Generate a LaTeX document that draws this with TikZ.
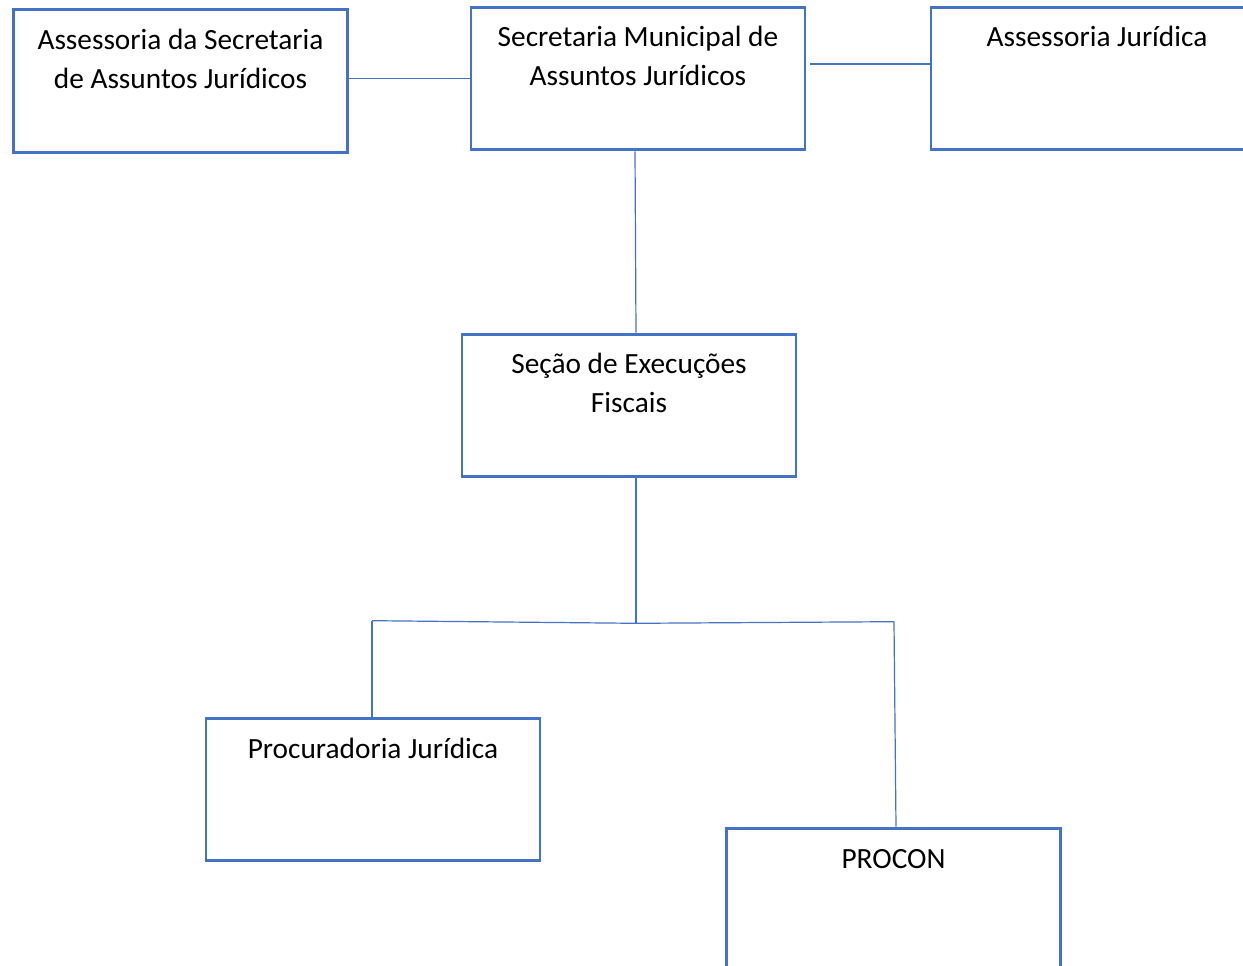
\documentclass[tikz,border=0pt]{standalone}
\usepackage{fontspec}
\setmainfont{Carlito}
\usetikzlibrary{calc}
\definecolor{officeblue}{RGB}{68,114,196}
\begin{document}
\begin{tikzpicture}[x=0.75pt,y=-0.75pt,
  orgbox/.style={draw=officeblue,line width=2.2pt,rectangle,inner sep=0pt,
    minimum width=250.5pt,minimum height=107pt,fill=white},
  boxtext/.style={anchor=base,align=center,inner sep=0pt,
    font=\fontsize{22}{29.3}\selectfont},
  link/.style={draw=officeblue,line width=0.9pt}]
\useasboundingbox (0,0) rectangle (1243,966);
\begin{scope}
\clip (0,0) rectangle (1243,966);
% boxes
\node[orgbox] (b1) at (180.5,81) {};
\node[orgbox] (b2) at (638,78.5) {};
\node[orgbox] (b3) at (1098,78.5) {};
\node[orgbox] (b4) at (629,405.5) {};
\node[orgbox] (b5) at (373,789.5) {};
\node[orgbox] (b6) at (893.5,899.5) {};
% texts (base anchor sits on the last line)
\node[boxtext] (t1) at (180.5,88.5) {Assessoria da Secretaria\\de Assuntos Jurídicos};
\node[boxtext] (t2) at (638,85.5) {Secretaria Municipal de\\Assuntos Jurídicos};
\node[boxtext] (t3) at (1097,46.5) {Assessoria Jurídica};
\node[boxtext] (t4) at (629,412.5) {Seção de Execuções\\Fiscais};
\node[boxtext] (t5) at (373,758) {Procuradoria Jurídica};
\node[boxtext] (t6) at (893.5,868) {PROCON};
% connectors
\coordinate (j) at ($(b4.south)+(7,145)$);
\coordinate (jl) at ($(b5.north)+(-1,-96)$);
\coordinate (jr) at ($(b6.north)+(0.5,-205)$);
\draw[link] (b1.east |- b2.west) -- (b2.west);
\draw[link] ($(b2.east)+(4,-14.5)$) -- (b3.west |- {$(b2.east)+(0,-14.5)$});
\draw[link] ($(b2.south)+(-3,0)$) -- ($(b4.north)+(7,0)$);
\draw[link] ($(b4.south)+(7,0)$) -- (j);
\draw[link] (jl) -- (j) -- (jr);
\draw[link] (jl) -- ($(b5.north)+(-1,0)$);
\draw[link] (jr) -- ($(b6.north)+(2.5,0)$);
\end{scope}
\end{tikzpicture}
\end{document}
